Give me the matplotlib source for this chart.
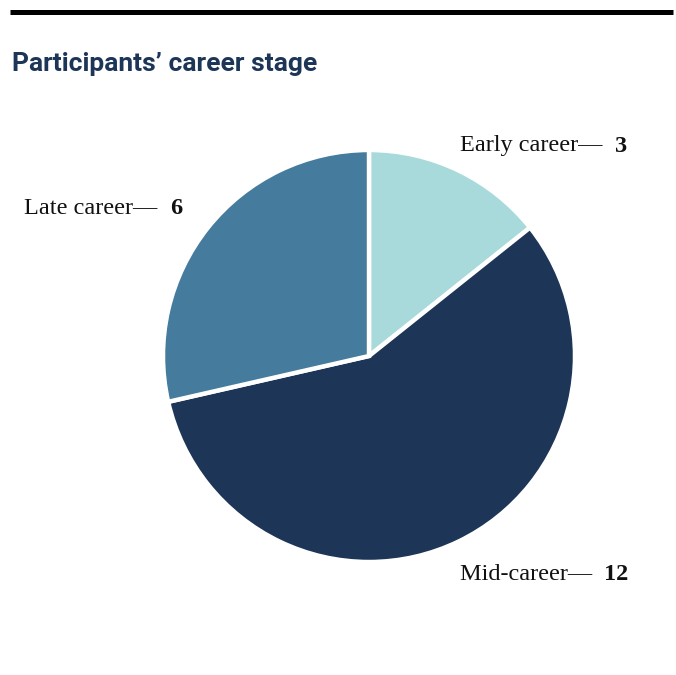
import matplotlib
matplotlib.use("Agg")
import matplotlib.pyplot as plt
from matplotlib.lines import Line2D

# Data
categories = ["Early career", "Mid-career", "Late career"]
counts = [3, 12, 6]
colors = ["#a8dadc", "#1d3557", "#457b9d"]

W, H = 676, 675
fig = plt.figure(figsize=(W / 100, H / 100), dpi=100)
fig.patch.set_facecolor("white")

def fx(px):
    return px / W

def fy(py):
    return 1 - py / H

# Top rule
fig.add_artist(Line2D([fx(10), fx(673)], [fy(12), fy(12)], color="black",
                      linewidth=3.6, transform=fig.transFigure,
                      solid_capstyle="butt"))

# Title
fig.text(fx(12), fy(64), "Participants\u2019 career stage", fontfamily="Roboto",
         fontweight="bold", fontsize=19, color="#1d3557", ha="left",
         va="center")

# Pie
cx, cy, r = 369, 356, 206
ax = fig.add_axes([fx(cx - r), fy(cy + r), (2 * r) / W, (2 * r) / H])
ax.pie(counts, colors=colors, startangle=90, counterclock=False,
       wedgeprops=dict(edgecolor="white", linewidth=3.2))
ax.set_xlim(-1, 1)
ax.set_ylim(-1, 1)
ax.set_aspect("auto")
ax.axis("off")

# Labels: regular name text followed by a bold count
label_pos = {
    "Early career": (460, 146, "left"),
    "Mid-career": (460, 574, "left"),
    "Late career": (182, 208, "right"),
}
renderer = fig.canvas.get_renderer()
serif = "Liberation Serif"
fs = 17.5
for cat, n in zip(categories, counts):
    x, y, align = label_pos[cat]
    name = f"{cat}\u2014 "
    if align == "left":
        t = fig.text(fx(x), fy(y), name, fontfamily=serif, fontsize=fs,
                     color="#111111", ha="left", va="center")
        bb = t.get_window_extent(renderer)
        fig.text(fx(bb.x1 + 6), fy(y), str(n), fontfamily=serif, fontsize=fs,
                 fontweight="bold", color="#111111", ha="left", va="center")
    else:
        num = fig.text(fx(x), fy(y), str(n), fontfamily=serif, fontsize=fs,
                       fontweight="bold", color="#111111", ha="right",
                       va="center")
        bb = num.get_window_extent(renderer)
        fig.text(fx(bb.x0 - 6), fy(y), name, fontfamily=serif, fontsize=fs,
                 color="#111111", ha="right", va="center")

fig.savefig("out.png", dpi=100, facecolor="white")
